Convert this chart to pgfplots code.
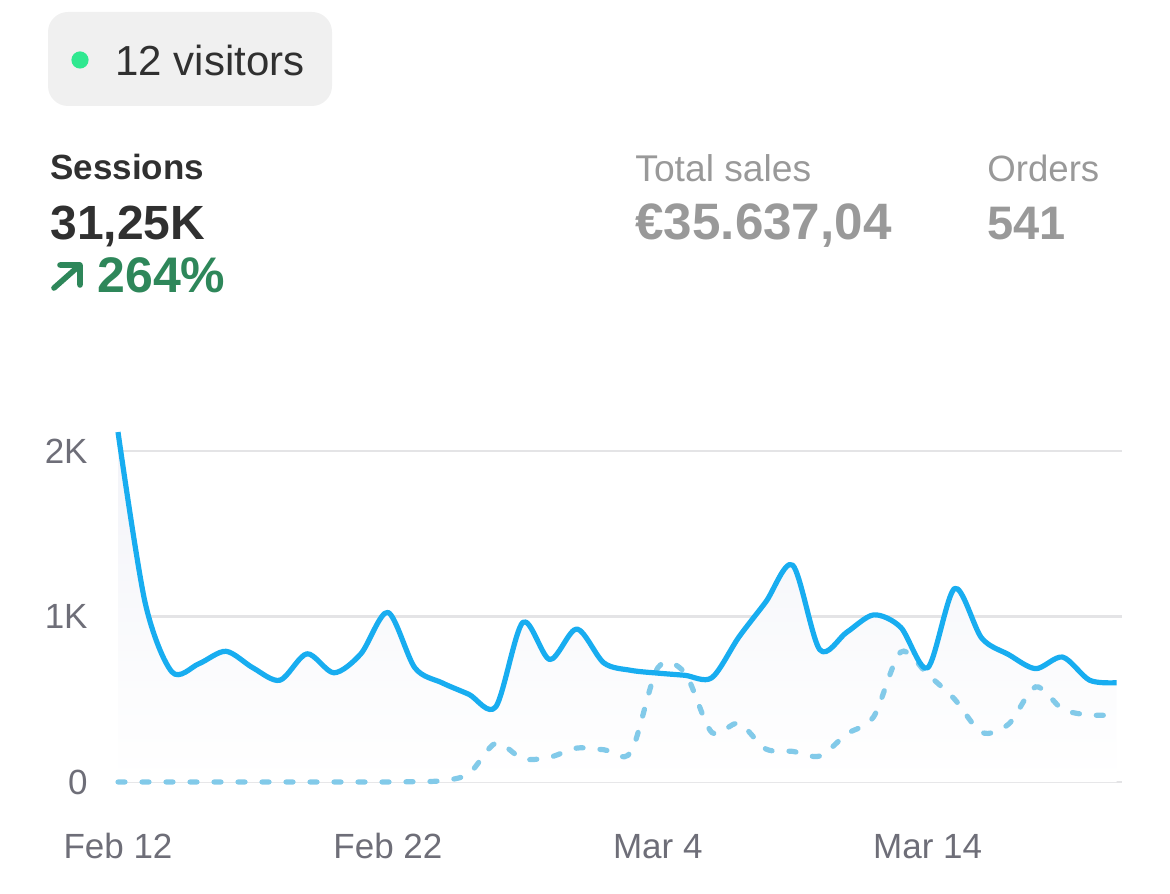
\documentclass[border=0pt]{standalone}
\usepackage{fontspec}
\setmainfont{Liberation Sans}
\usepackage{pgfplots}
\pgfplotsset{compat=1.18}
\definecolor{lineblue}{RGB}{24,173,240}
\definecolor{dashblue}{RGB}{130,202,233}
\definecolor{gridgray}{RGB}{228,228,230}
\definecolor{ticklab}{RGB}{110,110,120}
\definecolor{pillgray}{RGB}{240,240,240}
\definecolor{mint}{RGB}{48,232,144}
\definecolor{darktext}{RGB}{48,48,48}
\definecolor{graytext}{RGB}{153,153,153}
\definecolor{upgreen}{RGB}{46,135,90}
\definecolor{fillgray}{RGB}{242,243,248}

\pgfplotstableread{
day sessions
0 2115
1 1088
2 665
3 715
4 790
5 690
6 615
7 775
8 660
9 775
10 1025
11 690
12 600
13 530
14 455
15 965
16 740
17 925
18 720
19 675
20 658
21 645
22 630
23 875
24 1088
25 1310
26 800
27 905
28 1010
29 935
30 690
31 1170
32 870
33 770
34 685
35 755
36 615
37 600
}\sessions

\pgfplotstableread{
day prev
0 0
1 0
2 0
3 0
4 0
5 0
6 0
7 0
8 0
9 0
10 0
11 2
12 8
13 50
14 235
15 140
16 150
17 205
18 195
19 180
20 690
21 660
22 300
23 355
24 200
25 185
26 157
27 290
28 395
29 785
30 650
31 500
32 300
33 350
34 575
35 440
36 405
37 405
}\previous

\begin{document}
\begin{tikzpicture}
\path[use as bounding box] (0,0) rectangle (585pt,446.5pt);
\begin{scope}[x=0.5pt,y=-0.5pt,shift={(0pt,446.5pt)}]
\fill[pillgray, rounded corners=10pt] (48,12) rectangle (332,106);
\fill[mint] (80,60) circle (4.3pt);
\node[anchor=base west, inner sep=0, text=darktext, font=\fontsize{21}{25}\selectfont] at (115,76) {12 visitors};
\node[anchor=base west, inner sep=0, text=darktext, font=\fontsize{17.5}{21}\selectfont\bfseries] at (50,180) {Sessions};
\node[anchor=base west, inner sep=0, text=darktext, font=\fontsize{24}{28}\selectfont\bfseries] at (50,240) {31,25K};
\draw[upgreen, line width=2.8pt, line cap=round, line join=round] (54,288) -- (80,265) (60,265) -- (80,265) -- (80,285);
\node[anchor=base west, inner sep=0, text=upgreen, font=\fontsize{25}{29}\selectfont\bfseries] at (97,293) {264\%};
\node[anchor=base west, inner sep=0, text=graytext, font=\fontsize{18.6}{21}\selectfont] at (635,182) {Total sales};
\node[anchor=base west, inner sep=0, text=graytext, font=\fontsize{25.6}{29}\selectfont\bfseries] at (635,240) {€35.637,04};
\node[anchor=base west, inner sep=0, text=graytext, font=\fontsize{18.3}{21}\selectfont] at (987,182) {Orders};
\node[anchor=base west, inner sep=0, text=graytext, font=\fontsize{23.5}{28}\selectfont\bfseries] at (987,240) {541};
\end{scope}

\begin{axis}[
  at={(59pt,55.5pt)}, anchor=south west,
  scale only axis, width=502pt, height=182pt,
  xmin=0, xmax=37.2, ymin=0, ymax=2200,
  axis line style={draw=none},
  tick style={draw=none},
  major tick length=0pt,
  ytick={0,1000,2000}, yticklabels={0,1K,2K},
  xtick={0,10,20,30}, xticklabels={Feb 12,Feb 22,Mar 4,Mar 14},
  ymajorgrids,
  major grid style={gridgray, line width=1.3pt},
  ticklabel style={font=\fontsize{17.5}{20}\selectfont, text=ticklab, inner sep=0pt},
  yticklabel style={anchor=east, xshift=-15pt},
  xticklabel style={anchor=base, yshift=-38pt},
  clip=false,
]
\addplot[draw=none, smooth, shade, top color=fillgray, bottom color=white] table[x=day, y=sessions] {\sessions} \closedcycle;
\addplot[dashblue, line width=2.6pt, line cap=round, dash pattern=on 3.5pt off 8.5pt, smooth] table[x=day, y=prev] {\previous};
\addplot[lineblue, line width=2.6pt, line join=round, smooth] table[x=day, y=sessions] {\sessions};
\end{axis}
\end{tikzpicture}
\end{document}
